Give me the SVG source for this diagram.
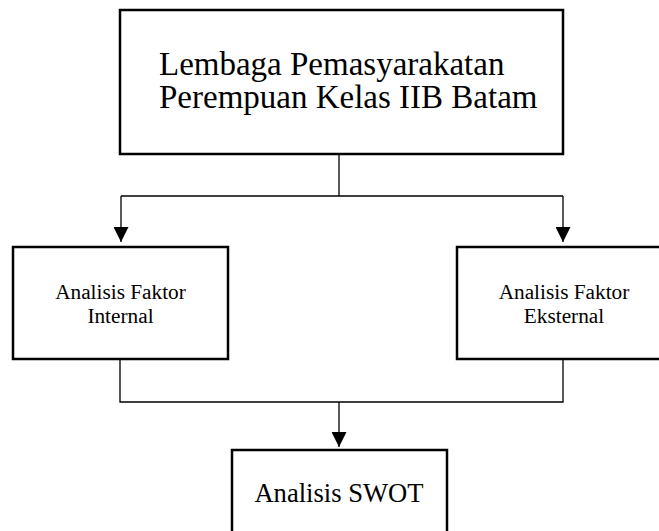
<svg xmlns="http://www.w3.org/2000/svg" width="659" height="531" viewBox="0 0 659 531">
<style>
.box{fill:#fff;stroke:#000;stroke-width:2.5}
.ln{fill:none;stroke:#000;stroke-width:1.3}
text{font-family:"Liberation Serif","Times New Roman",serif;fill:#000}
</style>
<defs>
<marker id="arr" viewBox="0 0 10 10" refX="10" refY="5" markerWidth="15" markerHeight="15" markerUnits="userSpaceOnUse" orient="auto">
<path d="M0,0 L10,5 L0,10 z" fill="#000"/>
</marker>
</defs>
<rect width="659" height="531" fill="#fff"/>
<g id="connectors">
<path class="ln" d="M339,154 V196"/>
<path class="ln" d="M121,196 H563"/>
<path class="ln" d="M121,196 V242" marker-end="url(#arr)"/>
<path class="ln" d="M563,196 V242" marker-end="url(#arr)"/>
<path class="ln" d="M120,359 V402 H563 V359"/>
<path class="ln" d="M339,402 V447" marker-end="url(#arr)"/>
</g>
<g id="lembaga">
<rect class="box" x="120" y="10" width="443" height="144"/>
<text x="159" y="75" font-size="33">Lembaga Pemasyarakatan</text>
<text x="159" y="108" font-size="33">Perempuan Kelas IIB Batam</text>
</g>
<g id="internal">
<rect class="box" x="13" y="247" width="215" height="112"/>
<text x="120.5" y="299" font-size="21.3" text-anchor="middle">Analisis Faktor</text>
<text x="120.5" y="323" font-size="21.3" text-anchor="middle">Internal</text>
</g>
<g id="eksternal">
<rect class="box" x="457" y="247" width="215" height="112"/>
<text x="564" y="299" font-size="21.3" text-anchor="middle">Analisis Faktor</text>
<text x="564" y="323" font-size="21.3" text-anchor="middle">Eksternal</text>
</g>
<g id="swot">
<rect class="box" x="232" y="450" width="215" height="100"/>
<text x="339" y="502" font-size="26.6" text-anchor="middle">Analisis SWOT</text>
</g>
</svg>
